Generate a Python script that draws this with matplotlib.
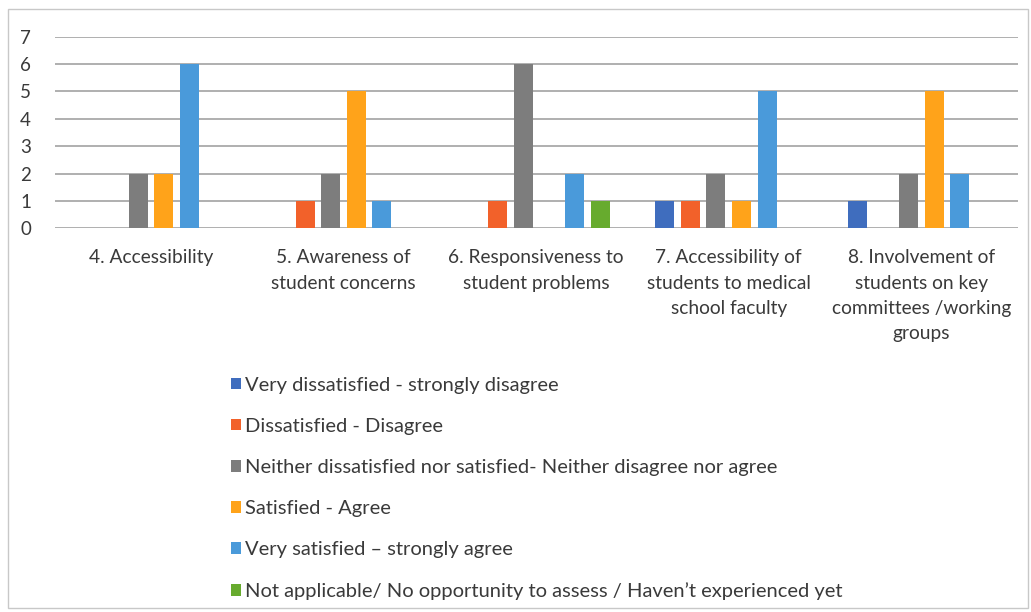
import numpy as np
import matplotlib.pyplot as plt
from matplotlib.patches import Rectangle

## === Data === ##

categories = [
    "4. Accessibility",
    "5. Awareness of\nstudent concerns",
    "6. Responsiveness to\nstudent problems",
    "7. Accessibility of\nstudents to medical\nschool faculty",
    "8. Involvement of\nstudents on key\ncommittees /working\ngroups",
]

series_labels = [
    "Very dissatisfied - strongly disagree",
    "Dissatisfied - Disagree",
    "Neither dissatisfied nor satisfied- Neither disagree nor agree",
    "Satisfied - Agree",
    "Very satisfied \u2013 strongly agree",
    "Not applicable/ No opportunity to assess / Haven\u2019t experienced yet",
]

very_dissatisfied = [0, 0, 0, 1, 1]
dissatisfied = [0, 1, 1, 1, 0]
neutral = [2, 2, 6, 2, 2]
satisfied = [2, 5, 0, 1, 5]
very_satisfied = [6, 1, 2, 5, 2]
not_applicable = [0, 0, 1, 0, 0]

series_values = [very_dissatisfied, dissatisfied, neutral, satisfied, very_satisfied, not_applicable]
colors = ["#3F6DBE", "#F2612A", "#7D7D7D", "#FFA31A", "#4A9ADA", "#67AB2E"]

## === Plot === ##

plt.rcParams["font.family"] = ["Lato", "DejaVu Sans"]
text_color = "#3A3A3A"

fig = plt.figure(figsize=(10.31, 6.12), dpi=100)
ax = fig.add_axes([0.053, 0.627, 0.934, 0.313])

x = np.arange(len(categories))
pitch = 0.133
width = 0.099
n = len(series_values)
for i, (vals, col, lab) in enumerate(zip(series_values, colors, series_labels)):
    offs = (i - (n - 1) / 2) * pitch
    ax.bar(x + offs, vals, width=width, color=col, label=lab, zorder=3)

ax.set_xlim(-0.5, len(categories) - 0.5)
ax.set_ylim(0, 7)
ax.set_yticks(range(0, 8))
ax.yaxis.grid(True, color="#9A9A9A", linewidth=1.1, zorder=0)
for s in ax.spines.values():
    s.set_visible(False)
ax.tick_params(axis="y", length=0, labelsize=13.5, labelcolor=text_color, pad=17)
ax.tick_params(axis="x", length=0, pad=15)
ax.set_xticks(x)
ax.set_xticklabels(categories, fontsize=13.8, color=text_color, linespacing=1.6)

fig.legend(loc="upper left", bbox_to_anchor=(0.214, 0.401), frameon=False,
           fontsize=14.5, labelcolor=text_color, handlelength=0.5, handleheight=0.5,
           handletextpad=0.2, labelspacing=1.2, borderpad=0)

# outer chart border
fig.patches.append(Rectangle((0.008, 0.007), 0.989, 0.978, transform=fig.transFigure,
                             fill=False, edgecolor="#C8C8C8", linewidth=1.0))

fig.savefig("out.png", dpi=100)
